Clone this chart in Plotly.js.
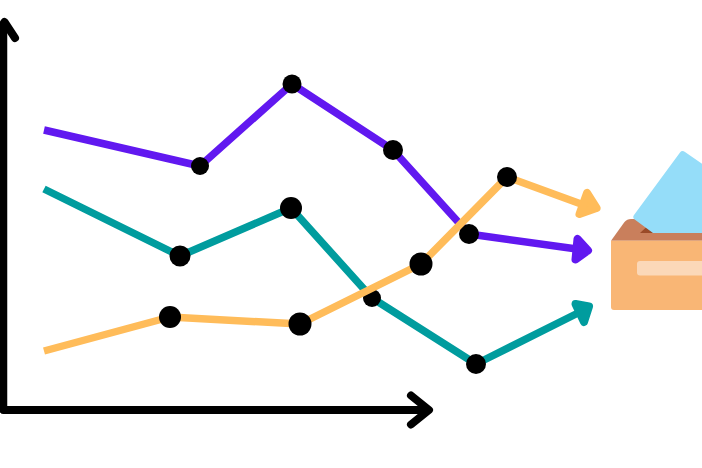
<!DOCTYPE html>
<html>
<head>
<meta charset="utf-8">
<script src="https://cdn.plot.ly/plotly-3.0.1.min.js"></script>
<style>
html,body{margin:0;padding:0;background:#fff;overflow:hidden}
#chart{width:702px;height:468px}
.js-line{stroke-linejoin:round !important}
.cap .js-line{stroke-linecap:round !important}
</style>
</head>
<body>
<div id="chart"></div>
<script>
// Series
const purpleX = [44, 200, 292, 393, 469, 584];
const purpleY = [338, 302, 384, 318, 234, 218];
const tealX = [44, 180, 291, 372, 476, 584];
const tealY = [279, 212, 260, 170, 104, 158];
const orangeX = [44, 170, 300, 421, 507, 592];
const orangeY = [117, 151, 144, 204, 291, 260];

// Arrowheads
const purpleHeadX = [588, 577.5, 575.5, 588];
const purpleHeadY = [217.5, 229, 208.5, 217.5];
const tealHeadX = [589, 575.5, 584, 589];
const tealHeadY = [161.5, 164, 146, 161.5];
const orangeHeadX = [596.5, 587, 579.5, 596.5];
const orangeHeadY = [260, 275, 254, 260];

// Axes
const axisYX = [3.5, 3.5];
const axisYY = [58, 438];
const axisYHeadX = [-6, 4.5, 15];
const axisYHeadY = [430, 446, 430];
const axisXX = [3.5, 424];
const axisXY = [58, 58];
const axisXHeadX = [411, 429, 411];
const axisXHeadY = [72.5, 58, 43.5];

const C = {purple:'#6118F0', teal:'#009C9E', orange:'#FFBC5A', black:'#000000',
           paper:'#95DDF9', box:'#F9B675', lid:'#C97F5C', slot:'#9A4A28', band:'#FBD8B8'};

function line(x, y, color, width) {
  return {x, y, mode:'lines', line:{color, width, simplify:false}, hoverinfo:'skip', showlegend:false};
}
function head(x, y, color) {
  return {x, y, mode:'lines', fill:'toself', fillcolor:color, line:{color, width:8, simplify:false}, hoverinfo:'skip', showlegend:false};
}
function dots(x, y, sizes) {
  return {x, y, mode:'markers', marker:{color:C.black, opacity:1, size:sizes, line:{width:0}}, hoverinfo:'skip', showlegend:false};
}

const data = [
  line(purpleX, purpleY, C.purple, 7.5),
  head(purpleHeadX, purpleHeadY, C.purple),
  dots(purpleX.slice(1,5), purpleY.slice(1,5), [18,19,20,20]),
  line(tealX, tealY, C.teal, 7.5),
  head(tealHeadX, tealHeadY, C.teal),
  dots(tealX.slice(1,5), tealY.slice(1,5), [21,22,18,20]),
  line(orangeX, orangeY, C.orange, 7.5),
  head(orangeHeadX, orangeHeadY, C.orange),
  dots(orangeX.slice(1,5), orangeY.slice(1,5), [22,23,23,20]),
  line(axisYX, axisYY, C.black, 7.5),
  line(axisYHeadX, axisYHeadY, C.black, 8),
  line(axisXX, axisXY, C.black, 8),
  line(axisXHeadX, axisXHeadY, C.black, 8)
];

// Ballot box icon
const shapeBase = {type:'path', xref:'x', yref:'y', layer:'above', line:{width:0}};
const shapes = [
  {...shapeBase, fillcolor:C.lid, path:'M 611 227.3 L 624.5 246 Q 627 249 631 249 L 655 249 L 704 235 L 704 227.3 Z'},
  {...shapeBase, fillcolor:C.slot, path:'M 640 235 L 647 241.5 L 654 235 Z'},
  {...shapeBase, fillcolor:C.paper, path:'M 680 315.5 Q 682 318 685 316 L 704 303 L 704 235 L 653 235 L 634 249 Q 632.5 251 634 253 Z'},
  {...shapeBase, fillcolor:C.box, path:'M 611 227.3 L 704 227.3 L 704 158 L 614 158 Q 611 158 611 161 Z'},
  {...shapeBase, fillcolor:C.band, path:'M 640 207 L 704 207 L 704 192.5 L 640 192.5 Q 637 192.5 637 195.5 L 637 204 Q 637 207 640 207 Z'}
];

const layout = {
  width:702, height:468,
  margin:{l:0,r:0,t:0,b:0,pad:0},
  paper_bgcolor:'#ffffff', plot_bgcolor:'#ffffff',
  showlegend:false,
  xaxis:{range:[0,702], visible:false, fixedrange:true},
  yaxis:{range:[0,468], visible:false, fixedrange:true},
  shapes
};

Plotly.newPlot('chart', data, layout, {staticPlot:true, displayModeBar:false}).then(()=>{
  const groups = document.querySelectorAll('.scatterlayer .trace');
  [1,4,7,9,10,11,12].forEach(i => groups[i] && groups[i].classList.add('cap'));
});
</script>
</body>
</html>
